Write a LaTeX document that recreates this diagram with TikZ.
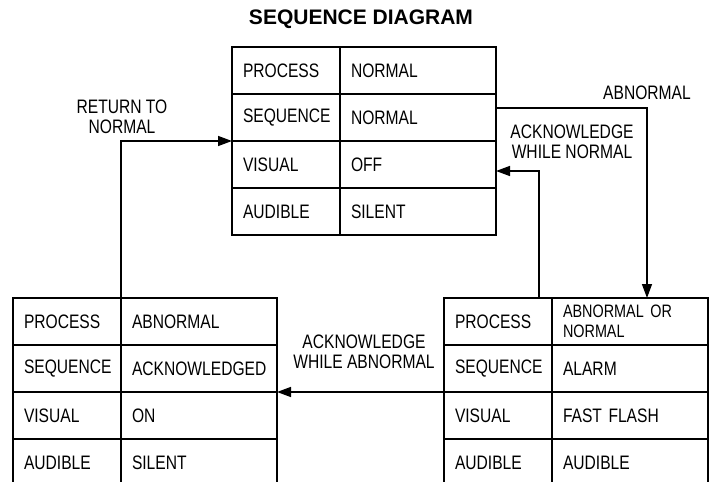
\documentclass[tikz,border=0pt]{standalone}
\usepackage{fontspec}
\setmainfont{Liberation Sans}
\newfontfamily\narrowsans{Liberation Sans}[FakeStretch=0.8]
\usetikzlibrary{positioning,arrows.meta}

\begin{document}
\begin{tikzpicture}[
        x=1pt, y=-1pt,
        cell/.style = {draw, rectangle, anchor=north west, minimum height=47pt, outer sep=0pt,
                       inner xsep=11pt, inner ysep=0pt, align=left,
                       font=\narrowsans\fontsize{19.5}{20.5}\selectfont},
        keycell/.style = {cell, text width=86pt},
        valcell/.style = {cell, text width=134pt},
        lbl/.style = {align=center, inner sep=0pt, font=\narrowsans\fontsize{19.5}{20.5}\selectfont},
        arr/.style = {-{Triangle[length=14pt,width=10pt]}},
        line width=1.4pt
    ]
        \useasboundingbox (0,0) rectangle (710,482);
        \clip (0,0) rectangle (710,482);
        \node[font=\bfseries\fontsize{21}{24}\selectfont] (title) at (361,19.5) {SEQUENCE DIAGRAM};
        % normal
        \foreach \k/\v [count=\i] in {PROCESS/NORMAL, SEQUENCE/NORMAL, VISUAL/OFF, AUDIBLE/SILENT} {
            \node[keycell] (normk\i) at (232,{47*\i}) {\k};
            \node[valcell, right=0pt of normk\i] (normv\i) {\v};
        }
        % acknowledged
        \foreach \k/\v [count=\i] in {PROCESS/ABNORMAL, SEQUENCE/ACKNOWLEDGED, VISUAL/ON, AUDIBLE/SILENT} {
            \node[keycell] (ackk\i) at (13,{251+47*\i}) {\k};
            \node[valcell, right=0pt of ackk\i] (ackv\i) {\v};
        }
        % alarm
        \foreach \k/\v [count=\i] in {PROCESS/{\fontsize{18}{14.5}\selectfont ABNORMAL OR\\NORMAL}, SEQUENCE/ALARM, VISUAL/FAST FLASH, AUDIBLE/AUDIBLE} {
            \node[keycell] (almk\i) at (444,{251+47*\i}) {\k};
            \node[valcell, right=0pt of almk\i] (almv\i) {\v};
        }
        \draw[arr] ([yshift=-14pt]normv2.north east) -| ([xshift=17pt]almv1.north);
        \draw[arr] ([xshift=-13pt]almk1.north east) |- ([yshift=-30pt]normv3.north east);
        \draw[arr] (ackk1.north east) |- (normk3.north west);
        \draw[arr] (almk3.north west) -- (ackv3.north east);
        \node[lbl] (abn) at (647,93) {ABNORMAL};
        \node[lbl] (ackn) at (572,142) {ACKNOWLEDGE\\WHILE NORMAL};
        \node[lbl] (ret) at (122,117) {RETURN TO\\NORMAL};
        \node[lbl] (acka) at (364,352) {ACKNOWLEDGE\\WHILE ABNORMAL};
    \end{tikzpicture}
\end{document}
